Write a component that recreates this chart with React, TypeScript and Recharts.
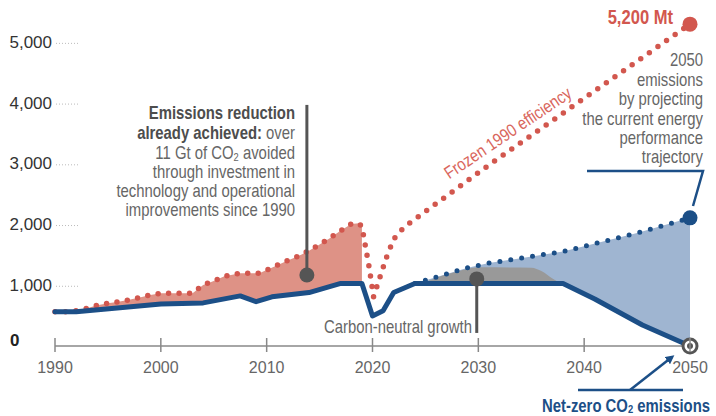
import React from 'react';
import {
  ComposedChart, Area, Line, XAxis, YAxis, ReferenceDot, ReferenceLine,
} from 'recharts';

// actual emissions (solid blue), Mt CO2
const actualYears = [1990, 1992, 2000, 2004, 2007.5, 2009, 2010.5, 2014, 2017, 2019, 2020, 2021, 2022, 2024, 2038, 2041, 2045.5, 2050];
const actualValues = [565, 565, 690, 710, 825, 730, 810, 880, 1030, 1030, 495, 580, 880, 1030, 1030, 775, 345, 0];

// frozen 1990 efficiency (red dotted)
const frozenYears = [1990, 1991, 1992, 1993, 1994, 1995, 1996, 1997, 1998, 1999, 2000, 2003, 2004, 2005, 2006, 2007.5, 2009.3, 2010, 2011, 2012, 2013, 2014, 2015, 2016, 2017, 2018, 2018.7, 2019, 2019.7, 2020.1, 2020.7, 2021.3, 2022, 2023, 2031, 2050];
const frozenValues = [565, 565, 580, 620, 670, 705, 730, 760, 800, 840, 870, 870, 1005, 1070, 1150, 1200, 1200, 1250, 1330, 1410, 1480, 1570, 1670, 1780, 1900, 2010, 2020, 1970, 1280, 810, 1130, 1450, 1760, 1960, 2980, 5300];

// current energy performance trajectory (blue dotted)
const bauYears = [2024, 2029, 2031, 2038, 2045, 2050];
const bauValues = [1030, 1290, 1365, 1555, 1860, 2110];

// carbon-neutral growth (grey band top)
const neutralYears = [2024, 2025, 2027, 2029, 2030, 2035, 2036, 2037, 2037.8];
const neutralValues = [1030, 1060, 1180, 1270, 1295, 1290, 1230, 1110, 1030];

const xTicks = [1990, 2000, 2010, 2020, 2030, 2040, 2050];
const yTicks = [0, 1000, 2000, 3000, 4000, 5000];

const RED = '#d2574e';
const BLUE = '#1c4f87';
const GREY = '#555555';
const SANS = "'Liberation Sans', Arial, sans-serif";
const SQUEEZE = 0.85;

function buildRows() {
  const map = new Map<number, Record<string, number>>();
  const put = (years: number[], values: number[], key: string, filter?: (y: number) => boolean) => {
    years.forEach((yr, i) => {
      if (filter && !filter(yr)) return;
      const row = map.get(yr) ?? { year: yr };
      row[key] = values[i];
      map.set(yr, row);
    });
  };
  put(actualYears, actualValues, 'actual');
  put(frozenYears, frozenValues, 'frozen');
  put(frozenYears, frozenValues, 'frozenHist', (y) => y <= 2019);
  put(bauYears, bauValues, 'bau');
  put(neutralYears, neutralValues, 'neutral');
  return [...map.values()].sort((a, b) => a.year - b.year);
}

const rows = buildRows();

// condensed-looking text: Liberation Sans squeezed horizontally
function NText(props: {
  x: number; y: number; anchor?: string; size?: number; bold?: boolean;
  fill?: string; rotate?: number; children: React.ReactNode;
}) {
  const { x, y, anchor = 'end', size = 17.5, bold, fill = '#666', rotate = 0, children } = props;
  return (
    <g transform={`translate(${x} ${y}) rotate(${rotate}) scale(${SQUEEZE} 1)`}>
      <text x={0} y={0} textAnchor={anchor} dominantBaseline="central" fontFamily={SANS}
        fontSize={size} fontWeight={bold ? 'bold' : 'normal'} fill={fill}>
        {children}
      </text>
    </g>
  );
}

const YTick = (props: any) => {
  const { y, payload } = props;
  if (payload.value === 0) {
    return (
      <text x={10} y={y - 6} dominantBaseline="central" fontFamily={SANS} fontWeight="bold" fontSize={17} fill="#222">0</text>
    );
  }
  return (
    <g>
      <text x={52} y={y} textAnchor="end" dominantBaseline="central" fontFamily={SANS} fontSize={17} fill="#333">
        {payload.value.toLocaleString('en-US')}
      </text>
      <line x1={56} x2={78} y1={y + 1} y2={y + 1} stroke="#bbb" strokeDasharray="1 2" />
    </g>
  );
};

const XTick = (props: any) => {
  const { x, y, payload } = props;
  return (
    <g>
      <line x1={x} x2={x} y1={y - 8} y2={y + 6} stroke="#888" strokeWidth={1.5} />
      <text x={x} y={y + 21} textAnchor="middle" dominantBaseline="central" fontFamily={SANS} fontSize={16} fill="#666">
        {payload.value}
      </text>
    </g>
  );
};

const NetZeroDot = (props: any) => {
  const { cx, cy } = props;
  return (
    <g>
      <circle cx={cx} cy={cy} r={8.5} fill={GREY} />
      <circle cx={cx} cy={cy} r={5.5} fill="#fff" />
      <circle cx={cx} cy={cy} r={3} fill={GREY} />
    </g>
  );
};

export default function App() {
  return (
    <div style={{ position: 'absolute', left: 0, top: 0, width: 716, height: 416, background: '#fff' }}>
      <ComposedChart width={716} height={416} data={rows} margin={{ top: 12, right: 26, bottom: 0, left: 0 }}>
        <XAxis
          dataKey="year" type="number" domain={[1990, 2050]} ticks={xTicks}
          axisLine={{ stroke: '#888', strokeWidth: 1.5 }} tickLine={false} tickSize={0} tickMargin={0}
          tick={<XTick />} height={70} interval={0}
        />
        <YAxis
          type="number" domain={[0, 5500]} ticks={yTicks} width={55}
          axisLine={false} tickLine={false} tick={<YTick />} interval={0}
        />
        <Area dataKey="frozenHist" type="linear" connectNulls fill="#de9286" fillOpacity={1} stroke="none" baseValue={0} isAnimationActive={false} />
        <Area dataKey="bau" type="linear" connectNulls fill="#9fb5d1" fillOpacity={1} stroke="none" baseValue={0} isAnimationActive={false} />
        <Area dataKey="neutral" type="monotone" connectNulls fill="#999999" fillOpacity={1} stroke="none" baseValue={0} isAnimationActive={false} />
        <Area dataKey="actual" type="linear" connectNulls fill="#ffffff" fillOpacity={1} stroke="none" baseValue={0} isAnimationActive={false} />
        <Line dataKey="bau" type="linear" connectNulls stroke={BLUE} strokeWidth={5} strokeDasharray="0 11" strokeLinecap="round" dot={false} isAnimationActive={false} />
        <Line dataKey="frozen" type="linear" connectNulls stroke={RED} strokeWidth={5.5} strokeDasharray="0 10.5" strokeLinecap="round" dot={false} isAnimationActive={false} />
        <Line dataKey="actual" type="linear" connectNulls stroke={BLUE} strokeWidth={5} strokeLinejoin="round" strokeLinecap="round" dot={false} isAnimationActive={false} />

        <ReferenceLine segment={[{ x: 2013.8, y: 1170 }, { x: 2013.8, y: 3970 }]} stroke={GREY} strokeWidth={3} />
        <ReferenceDot x={2013.8} y={1170} r={7.5} fill={GREY} stroke="none" />
        <ReferenceLine segment={[{ x: 2029.85, y: 1105 }, { x: 2029.85, y: 215 }]} stroke={GREY} strokeWidth={3} />
        <ReferenceDot x={2029.85} y={1105} r={7.5} fill={GREY} stroke="none" />
        <ReferenceDot x={2050} y={5300} r={7.5} fill={RED} stroke="none" ifOverflow="visible" />
        <ReferenceDot x={2050} y={2110} r={7.5} fill={BLUE} stroke="none" ifOverflow="visible" />
        <ReferenceDot x={2050} y={0} r={8.5} shape={<NetZeroDot />} ifOverflow="visible" />
      </ComposedChart>

      <svg width={716} height={416} style={{ position: 'absolute', left: 0, top: 0, pointerEvents: 'none' }}>
        <defs>
          <marker id="arrow" markerWidth="9" markerHeight="9" refX="6" refY="4.5" orient="auto" markerUnits="userSpaceOnUse">
            <path d="M0,0 L9,4.5 L0,9 z" fill={BLUE} />
          </marker>
        </defs>
        <NText x={295} y={113} bold fill="#4d4d4d">Emissions reduction</NText>
        <NText x={295} y={133}>
          <tspan fontWeight="bold" fill="#4d4d4d">already achieved:</tspan> over
        </NText>
        <NText x={295} y={152.5}>
          11 Gt of CO<tspan fontSize={11} dy={4}>2</tspan><tspan dy={-4}> avoided</tspan>
        </NText>
        <NText x={295} y={171.5}>through investment in</NText>
        <NText x={295} y={191}>technology and operational</NText>
        <NText x={295} y={210}>improvements since 1990</NText>

        <NText x={673} y={18} size={19.5} bold fill={RED}>5,200 Mt</NText>
        <NText x={703} y={60}>2050</NText>
        <NText x={703} y={80}>emissions</NText>
        <NText x={703} y={99}>by projecting</NText>
        <NText x={703} y={118.5}>the current energy</NText>
        <NText x={703} y={137.5}>performance</NText>
        <NText x={703} y={157}>trajectory</NText>

        <NText x={472} y={327}>Carbon-neutral growth</NText>
        <NText x={507.5} y={132.5} anchor="middle" rotate={-34} fill="#d9665c">Frozen 1990 efficiency</NText>

        <polyline points="587,171 703,171 693,206" fill="none" stroke={BLUE} strokeWidth={2.5} />
        <line x1={578} y1={390} x2={683} y2={390} stroke={BLUE} strokeWidth={2.5} />
        <line x1={630} y1={390} x2={672} y2={357} stroke={BLUE} strokeWidth={2.5} markerEnd="url(#arrow)" />
        <NText x={626} y={406} anchor="middle" size={17.5} bold fill={BLUE}>
          Net-zero CO<tspan fontSize={11} dy={3}>2</tspan><tspan dy={-3}> emissions</tspan>
        </NText>
      </svg>
    </div>
  );
}
